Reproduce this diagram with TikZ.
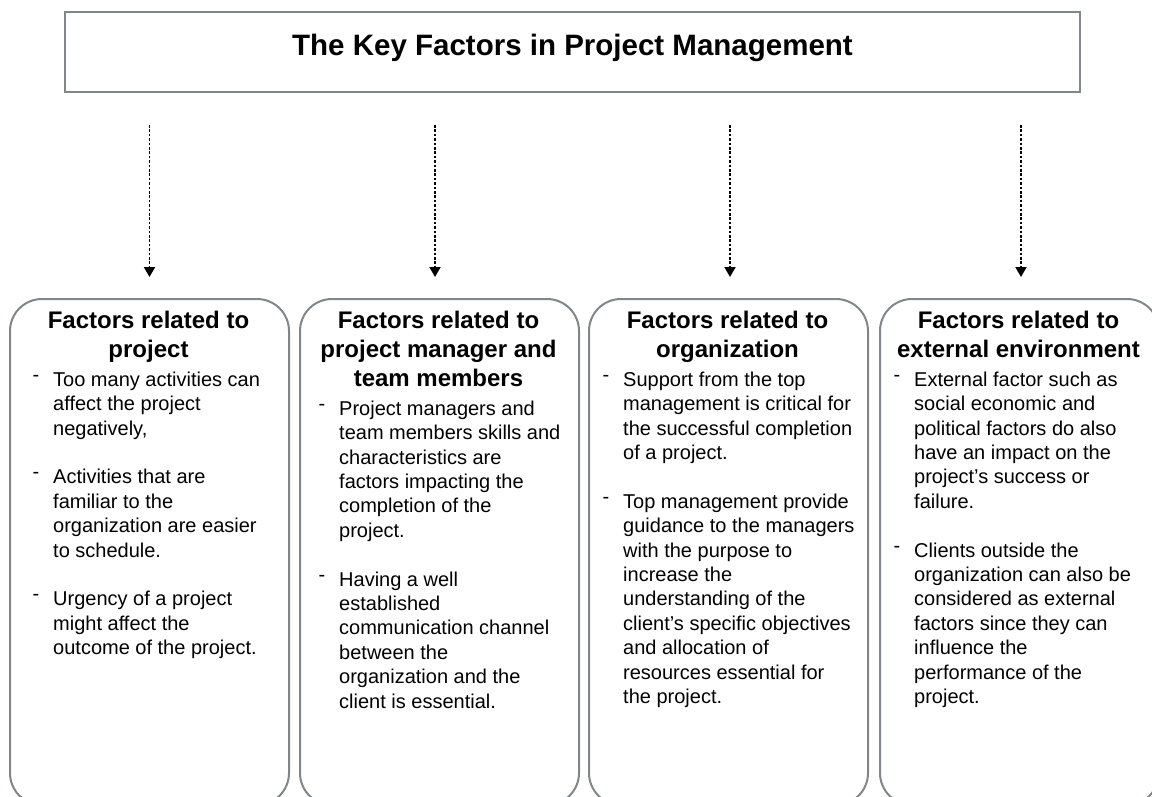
\documentclass[tikz,border=0pt]{standalone}
\usepackage{fontspec}
\setmainfont{Liberation Sans}
\usetikzlibrary{arrows.meta}
\definecolor{boxgray}{RGB}{130,133,137}
\newcommand{\itm}{\llap{\raisebox{5pt}{-}\hspace{14pt}}}

\begin{document}
\begin{tikzpicture}[
  ttl/.style={draw=boxgray, line width=2pt, minimum width=1015pt,
              minimum height=80pt, inner sep=0pt, text height=16pt,
              text depth=10pt, font=\fontsize{29.5}{35}\selectfont\bfseries},
  fac/.style={draw=boxgray, line width=2pt, rounded corners=32pt,
              minimum width=279pt, minimum height=506pt, inner sep=0pt,
              anchor=north west},
  hd/.style={anchor=north, align=center, inner sep=0pt,
             font=\fontsize{24}{29}\selectfont\bfseries},
  txt/.style={anchor=north west, align=left, inner sep=0pt,
              font=\fontsize{20}{24.4}\selectfont},
  arr/.style={-{Triangle[width=11pt,length=10pt]}, line width=1.9pt,
              dash pattern=on 2.5pt off 1.9pt, shorten <=32pt, shorten >=21pt}]

% page is 1152 x 796, one pt per pixel, y grows downward as negative
\useasboundingbox (0pt,0pt) rectangle (1152pt,-796pt);

\node[ttl] (title) at (572.5pt,-52pt) {The Key Factors in Project Management};

\node[fac] (fp) at (9pt,-298pt) {};
\node[fac] (fm) at (299pt,-298pt) {};
\node[fac] (fo) at (588pt,-298pt) {};
\node[fac] (fe) at (879pt,-298pt) {};

\draw[arr] (title.south -| fp.north) -- (fp.north);
\draw[arr] ([xshift=-4.5pt]title.south -| fm.north) -- ([xshift=-4.5pt]fm.north);
\draw[arr] ([xshift=1.5pt]title.south -| fo.north) -- ([xshift=1.5pt]fo.north);
\draw[arr] ([xshift=1.5pt]title.south -| fe.north) -- ([xshift=1.5pt]fe.north);

% --------------------------------------------------------------- headings ---
\node[hd] (hp) at (148.5pt,-308pt) {\strut Factors related to\\project};
\node[hd] (hm) at (438.5pt,-308pt)
      {\strut Factors related to\\project manager and\\team members};
\node[hd] (ho) at (727.5pt,-308pt) {\strut Factors related to\\organization};
\node[hd] (he) at (1018.5pt,-308pt)
      {\strut Factors related to\\external environment};

% ------------------------------------------------------------------ lists ---
\node[txt] (tp) at (53pt,-369pt)
      {\strut\itm Too many activities can\\affect the project\\negatively,\\[24.4pt]
       \itm Activities that are\\familiar to the\\organization are easier\\to schedule.\\[24.4pt]
       \itm Urgency of a project\\might affect the\\outcome of the project.};
\node[txt] (tm) at (339pt,-398pt)
      {\strut\itm Project managers and\\team members skills and\\characteristics are\\
       factors impacting the\\completion of the\\project.\\[24.4pt]
       \itm Having a well\\established\\communication channel\\between the\\
       organization and the\\client is essential.};
\node[txt] (to) at (623pt,-369pt)
      {\strut\itm Support from the top\\management is critical for\\the successful completion\\
       of a project.\\[24.4pt]
       \itm Top management provide\\guidance to the managers\\with the purpose to\\
       increase the\\understanding of the\\client's specific objectives\\
       and allocation of\\resources essential for\\the project.};
\node[txt] (te) at (914pt,-369pt)
      {\strut\itm External factor such as\\social economic and\\political factors do also\\
       have an impact on the\\project's success or\\failure.\\[24.4pt]
       \itm Clients outside the\\organization can also be\\considered as external\\
       factors since they can\\influence the\\performance of the\\project.};

\end{tikzpicture}
\end{document}
